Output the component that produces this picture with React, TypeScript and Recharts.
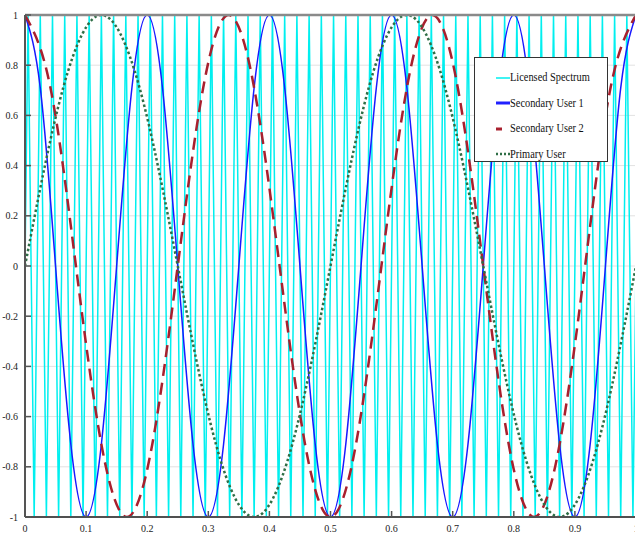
import React from "react";
import { LineChart, Line, XAxis, YAxis, CartesianGrid, Legend } from "recharts";

// x positions of the tick marks
const xTicks = [0, 0.1, 0.2, 0.3, 0.4, 0.5, 0.6, 0.7, 0.8, 0.9, 1];
const yTicks = [-1, -0.8, -0.6, -0.4, -0.2, 0, 0.2, 0.4, 0.6, 0.8, 1];

// Licensed Spectrum: peaks/troughs (first at x=0.005, every 0.01 after)
const licensedValues = [
  0,
  1, -1, 1, -1, 1, -1, 1, -1, 1, -1,
  1, -1, 1, -1, 1, -1, 1, -1, 1, -1,
  1, -1, 1, -1, 1, -1, 1, -1, 1, -1,
  1, -1, 1, -1, 1, -1, 1, -1, 1, -1,
  1, -1, 1, -1, 1, -1, 1, -1, 1, -1,
  1, -1, 1, -1, 1, -1, 1, -1, 1, -1,
  1, -1, 1, -1, 1, -1, 1, -1, 1, -1,
  1, -1, 1, -1, 1, -1, 1, -1, 1, -1,
  1, -1, 1, -1, 1, -1, 1, -1, 1, -1,
  1, -1, 1, -1, 1, -1, 1, -1, 1, -1,
  0,
];

// Secondary User 1: sampled every 0.025
const su1Values = [
  1, 0.71, 0, -0.71, -1, -0.71, 0, 0.71,
  1, 0.71, 0, -0.71, -1, -0.71, 0, 0.71,
  1, 0.71, 0, -0.71, -1, -0.71, 0, 0.71,
  1, 0.71, 0, -0.71, -1, -0.71, 0, 0.71,
  1, 0.71, 0, -0.71, -1, -0.71, 0, 0.71,
  1,
];

// Secondary User 2: sampled every 1/24
const su2Values = [
  1, 0.71, 0, -0.71, -1, -0.71, 0, 0.71,
  1, 0.71, 0, -0.71, -1, -0.71, 0, 0.71,
  1, 0.71, 0, -0.71, -1, -0.71, 0, 0.71,
  1,
];

// Primary User: sampled every 0.0625
const puValues = [
  0, 0.71, 1, 0.71, 0, -0.71, -1, -0.71,
  0, 0.71, 1, 0.71, 0, -0.71, -1, -0.71,
  0,
];

const licensedData = licensedValues.map((y, i) => ({
  x: i === 0 ? 0 : i === licensedValues.length - 1 ? 1 : 0.005 + (i - 1) * 0.01,
  y,
}));
const toPoints = (vals: number[], step: number) => vals.map((y, i) => ({ x: Math.min(1, i * step), y }));
const su1Data = toPoints(su1Values, 0.025);
const su2Data = toPoints(su2Values, 1 / 24);
const puData = toPoints(puValues, 0.0625);

const FONT = "'Liberation Serif', 'Times New Roman', serif";

const legendItems = [
  { name: "Licensed Spectrum", color: "#00EFEF", width: 1.5, dash: "", len: 14 },
  { name: "Secondary User 1", color: "#2020FF", width: 3, dash: "", len: 14 },
  { name: "Secondary User 2", color: "#A8202E", width: 3, dash: "", len: 6 },
  { name: "Primary User", color: "#2E6E46", width: 2.5, dash: "2 2", len: 15 },
];

const XTick = (props: any) => {
  const { x, y, payload } = props;
  return (
    <g>
      <line x1={x} y1={y} x2={x} y2={y - 6} stroke="#555" strokeWidth={1.5} />
      <text x={x} y={y + 15} textAnchor="middle" fontSize={10} fontFamily={FONT} fill="#222">
        {payload.value}
      </text>
    </g>
  );
};

const TopTick = (props: any) => {
  const { x, y } = props;
  return <line x1={x} y1={y} x2={x} y2={y + 6} stroke="#666" strokeWidth={1.5} />;
};

const YTick = (props: any) => {
  const { x, y, payload } = props;
  return (
    <g>
      <line x1={x} y1={y} x2={x + 6} y2={y} stroke="#555" strokeWidth={1.5} />
      <text x={x - 7} y={y + 3.5} textAnchor="end" fontSize={10} fontFamily={FONT} fill="#222">
        {payload.value}
      </text>
    </g>
  );
};

const renderLegend = () => (
  <div
    style={{
      width: 134,
      height: 105,
      boxSizing: "border-box",
      background: "#fff",
      border: "1.5px solid #333",
      paddingTop: 7,
      fontFamily: FONT,
    }}
  >
    {legendItems.map((it) => (
      <div key={it.name} style={{ height: 25.5, display: "flex", alignItems: "center" }}>
        <svg width={35} height={10} style={{ flex: "none" }}>
          <line
            x1={21}
            y1={5}
            x2={21 + it.len}
            y2={5}
            stroke={it.color}
            strokeWidth={it.width}
            strokeDasharray={it.dash || undefined}
          />
        </svg>
        <span
          style={{
            fontSize: 12.5,
            color: "#111",
            whiteSpace: "nowrap",
            display: "inline-block",
            transform: "scaleX(0.83)",
            transformOrigin: "left center",
          }}
        >
          {it.name}
        </span>
      </div>
    ))}
  </div>
);

export default function App() {
  return (
    <div style={{ position: "absolute", left: 0, top: 0, width: 635, height: 540, overflow: "hidden", background: "#fff" }}>
      <LineChart width={640} height={540} margin={{ top: 14, right: 4, bottom: 0, left: 0 }}>
        <CartesianGrid horizontal vertical={false} stroke="#e2e2e2" strokeWidth={1} />
        <XAxis
          dataKey="x"
          type="number"
          domain={[0, 1]}
          ticks={xTicks}
          tickSize={0}
          tickMargin={0}
          height={23}
          axisLine={{ stroke: "#505050", strokeWidth: 2 }}
          tickLine={false}
          tick={<XTick />}
          interval={0}
          allowDataOverflow
        />
        <XAxis
          xAxisId="top"
          orientation="top"
          dataKey="x"
          type="number"
          domain={[0, 1]}
          ticks={xTicks}
          tickSize={0}
          tickMargin={0}
          height={1}
          axisLine={{ stroke: "#8a8a8a", strokeWidth: 2.5 }}
          tickLine={false}
          tick={<TopTick />}
          interval={0}
        />
        <YAxis
          type="number"
          domain={[-1, 1]}
          ticks={yTicks}
          width={25}
          tickSize={0}
          tickMargin={0}
          axisLine={{ stroke: "#555", strokeWidth: 2 }}
          tickLine={false}
          tick={<YTick />}
          interval={0}
          allowDataOverflow
        />
        <Line
          data={licensedData}
          dataKey="y"
          name="Licensed Spectrum"
          type="linear"
          stroke="#00EFEF"
          strokeWidth={1.5}
          dot={false}
          isAnimationActive={false}
        />
        <Line
          data={su1Data}
          dataKey="y"
          name="Secondary User 1"
          type="natural"
          stroke="#1818FF"
          strokeWidth={1.5}
          dot={false}
          isAnimationActive={false}
        />
        <Line
          data={su2Data}
          dataKey="y"
          name="Secondary User 2"
          type="natural"
          stroke="#A8202E"
          strokeWidth={2.5}
          strokeDasharray="12 7"
          dot={false}
          isAnimationActive={false}
        />
        <Line
          data={puData}
          dataKey="y"
          name="Primary User"
          type="natural"
          stroke="#2E6E46"
          strokeWidth={2.5}
          strokeDasharray="2.5 2.5"
          dot={false}
          isAnimationActive={false}
        />
        <Legend
          layout="horizontal"
          verticalAlign="middle"
          align="center"
          content={renderLegend}
          wrapperStyle={{ position: "absolute", left: 474, top: 57, width: 134, height: 105 }}
        />
      </LineChart>
    </div>
  );
}
